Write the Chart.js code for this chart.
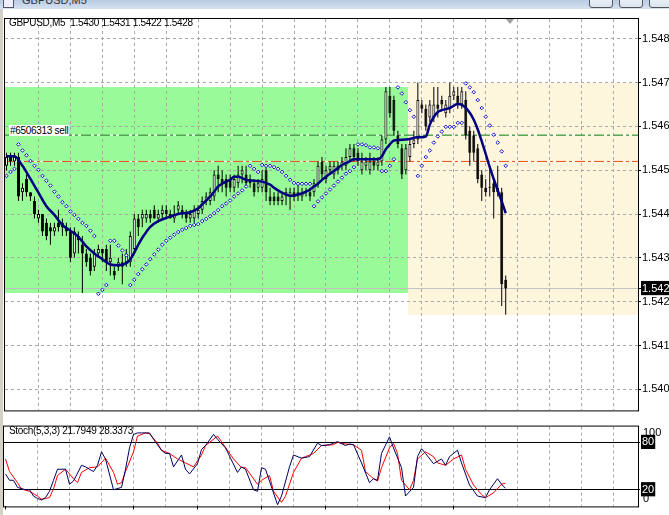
<!DOCTYPE html>
<html>
<head>
<meta charset="utf-8">
<script src="https://cdn.jsdelivr.net/npm/chart.js@4.4.0/dist/chart.umd.min.js"></script>
<style>
  html, body { margin: 0; padding: 0; background: #fff; }
  #wrap { position: relative; width: 669px; height: 515px; overflow: hidden; background: #fff;
          font-family: 'Liberation Sans', Arial, sans-serif; font-size: 10px; color: #000; }
  #main { position: absolute; left: 0; top: 0; }
  #stoch { position: absolute; left: 0; top: 418px; }
  #titlebar { position: absolute; left: 0; top: 0; width: 669px; height: 9px; overflow: hidden;
              background: linear-gradient(#b7cbe4, #d6e2f1); }
  #titlebar .name { position: absolute; left: 22px; top: -6px; font-size: 11px; color: #333; }
  #titlebar .icon { position: absolute; left: 3px; top: -3px; width: 9px; height: 9px; border: 1px solid #556;
                    background: #eef; }
  #titlebar .btn { position: absolute; top: -6px; width: 22px; height: 12px; border: 1px solid #555;
                   border-radius: 3px; background: linear-gradient(#f4f7fb, #d9e3ef); }
  .lbl { position: absolute; white-space: nowrap; line-height: 11px; letter-spacing: -0.3px; }
  #order { background: #fff; padding: 0 1px; }
  #shift { position: absolute; left: 506px; top: 19px; width: 0; height: 0;
           border-left: 4px solid transparent; border-right: 4px solid transparent; border-top: 5px solid #a0a0a0; }
  #edge { position: absolute; left: 0; top: 9px; width: 3px; height: 506px; background: #d4d0c8; }
</style>
</head>
<body>
<div id="wrap">
  <canvas id="main" width="669" height="418"></canvas>
  <canvas id="stoch" width="669" height="97"></canvas>
  <div id="titlebar">
    <div class="icon"></div>
    <div class="name">GBPUSD,M5</div>
    <div class="btn" style="left:589px"></div>
    <div class="btn" style="left:619px"></div>
    <div class="btn" style="left:649px"></div>
  </div>
  <div id="edge"></div>
  <div id="shift"></div>
  <div class="lbl" style="left:9px; top:17px;">GBPUSD,M5&nbsp; 1.5430 1.5431 1.5422 1.5428</div>
  <div class="lbl" id="order" style="left:9px; top:125px;">#6506313 sell</div>
  <div class="lbl" style="left:9px; top:425px;">Stoch(5,3,3) 21.7949 28.3373</div>
</div>
<script>
// GBPUSD M5 candles, one entry per bar (oldest first)
const opens = [1.5456,1.5458,1.5457,1.5458,1.5450,1.5453,1.5450,1.5448,1.5444,1.5445,
  1.5443,1.5442,1.5441,1.5443,1.5442,1.5442,1.5441,1.5436,1.5440,1.5438,
  1.5436,1.5435,1.5433,1.5436,1.5437,1.5437,1.5434,1.5432,1.5433,1.5434,
  1.5434,1.5434,1.5437,1.5444,1.5444,1.5444,1.5445,1.5446,1.5444,1.5445,
  1.5446,1.5445,1.5444,1.5446,1.5446,1.5445,1.5444,1.5444,1.5445,1.5446,
  1.5448,1.5448,1.5449,1.5454,1.5453,1.5453,1.5453,1.5451,1.5452,1.5454,
  1.5454,1.5453,1.5452,1.5451,1.5451,1.5455,1.5449,1.5449,1.5449,1.5448,
  1.5449,1.5449,1.5450,1.5449,1.5449,1.5450,1.5450,1.5450,1.5452,1.5457,
  1.5453,1.5455,1.5454,1.5456,1.5456,1.5456,1.5458,1.5460,1.5459,1.5455,
  1.5456,1.5455,1.5457,1.5456,1.5457,1.5462,1.5472,1.5471,1.5463,1.5460,
  1.5455,1.5458,1.5461,1.5462,1.5470,1.5469,1.5467,1.5467,1.5470,1.5471,
  1.5468,1.5469,1.5472,1.5472,1.5470,1.5471,1.5464,1.5463,1.5460,1.5454,
  1.5451,1.5451,1.5452,1.5451,1.5450,1.5430];
const highs = [1.5459,1.5459,1.5459,1.5459,1.5452,1.5454,1.5450,1.5449,1.5446,1.5445,
  1.5444,1.5443,1.5443,1.5446,1.5444,1.5443,1.5442,1.5442,1.5441,1.5440,
  1.5437,1.5436,1.5437,1.5438,1.5437,1.5438,1.5438,1.5433,1.5435,1.5436,
  1.5437,1.5441,1.5445,1.5445,1.5446,1.5446,1.5446,1.5447,1.5446,1.5447,
  1.5447,1.5446,1.5447,1.5448,1.5447,1.5446,1.5446,1.5447,1.5447,1.5449,
  1.5450,1.5451,1.5455,1.5456,1.5455,1.5454,1.5454,1.5454,1.5456,1.5456,
  1.5456,1.5454,1.5453,1.5453,1.5455,1.5456,1.5451,1.5450,1.5450,1.5450,
  1.5451,1.5451,1.5451,1.5452,1.5451,1.5451,1.5451,1.5453,1.5457,1.5458,
  1.5456,1.5457,1.5457,1.5457,1.5458,1.5460,1.5461,1.5461,1.5460,1.5459,
  1.5458,1.5459,1.5458,1.5458,1.5463,1.5474,1.5474,1.5472,1.5464,1.5461,
  1.5461,1.5462,1.5464,1.5475,1.5471,1.5470,1.5471,1.5474,1.5474,1.5472,
  1.5471,1.5475,1.5474,1.5474,1.5474,1.5473,1.5465,1.5464,1.5461,1.5455,
  1.5453,1.5456,1.5453,1.5456,1.5451,1.5431];
const lows = [1.5455,1.5456,1.5456,1.5448,1.5448,1.5449,1.5448,1.5444,1.5443,1.5440,
  1.5439,1.5438,1.5440,1.5441,1.5440,1.5440,1.5434,1.5435,1.5436,1.5427,
  1.5433,1.5431,1.5432,1.5435,1.5434,1.5432,1.5431,1.5430,1.5432,1.5429,
  1.5433,1.5433,1.5436,1.5440,1.5442,1.5443,1.5443,1.5444,1.5443,1.5444,
  1.5444,1.5444,1.5443,1.5445,1.5444,1.5443,1.5443,1.5443,1.5444,1.5445,
  1.5447,1.5447,1.5448,1.5450,1.5450,1.5449,1.5450,1.5450,1.5451,1.5452,
  1.5451,1.5451,1.5449,1.5450,1.5450,1.5448,1.5447,1.5447,1.5447,1.5447,
  1.5447,1.5446,1.5448,1.5448,1.5448,1.5449,1.5448,1.5449,1.5451,1.5453,
  1.5452,1.5454,1.5453,1.5454,1.5455,1.5455,1.5457,1.5457,1.5456,1.5454,
  1.5455,1.5454,1.5455,1.5455,1.5456,1.5461,1.5467,1.5463,1.5460,1.5453,
  1.5454,1.5457,1.5460,1.5461,1.5468,1.5464,1.5466,1.5466,1.5467,1.5469,
  1.5467,1.5468,1.5471,1.5469,1.5469,1.5462,1.5456,1.5457,1.5452,1.5448,
  1.5449,1.5449,1.5444,1.5449,1.5424,1.5422];
const closes = [1.5458,1.5457,1.5458,1.5449,1.5451,1.5450,1.5449,1.5445,1.5445,1.5441,
  1.5440,1.5441,1.5442,1.5442,1.5443,1.5441,1.5435,1.5441,1.5439,1.5436,
  1.5434,1.5432,1.5436,1.5437,1.5436,1.5434,1.5435,1.5431,1.5434,1.5433,
  1.5436,1.5440,1.5444,1.5442,1.5445,1.5445,1.5444,1.5444,1.5445,1.5446,
  1.5445,1.5444,1.5445,1.5447,1.5445,1.5444,1.5445,1.5446,1.5446,1.5448,
  1.5449,1.5450,1.5454,1.5453,1.5452,1.5451,1.5451,1.5453,1.5454,1.5455,
  1.5452,1.5452,1.5450,1.5452,1.5453,1.5450,1.5448,1.5448,1.5448,1.5449,
  1.5450,1.5450,1.5449,1.5450,1.5450,1.5450,1.5449,1.5452,1.5456,1.5454,
  1.5455,1.5456,1.5456,1.5455,1.5457,1.5458,1.5460,1.5458,1.5457,1.5457,
  1.5457,1.5457,1.5456,1.5457,1.5462,1.5473,1.5468,1.5464,1.5461,1.5454,
  1.5460,1.5461,1.5462,1.5471,1.5469,1.5465,1.5470,1.5470,1.5469,1.5470,
  1.5470,1.5472,1.5473,1.5470,1.5473,1.5463,1.5459,1.5459,1.5453,1.5451,
  1.5450,1.5451,1.5450,1.5450,1.5429,1.5428];

// Parabolic SAR, one dot per bar
const sar = [1.54537,1.54546,1.54553,1.54609,1.54595,1.54584,1.54571,1.54560,1.54551,1.54537,
  1.54526,1.54515,1.54501,1.54490,1.54477,1.54468,1.54456,1.54448,1.54439,1.54430,
  1.54423,1.54412,1.54400,1.54268,1.54277,1.54288,1.54389,1.54389,1.54378,1.54367,
  1.54356,1.54288,1.54300,1.54313,1.54324,1.54335,1.54347,1.54358,1.54369,1.54380,
  1.54389,1.54396,1.54403,1.54409,1.54414,1.54418,1.54423,1.54425,1.54427,1.54434,
  1.54439,1.54445,1.54452,1.54459,1.54468,1.54474,1.54481,1.54490,1.54497,1.54504,
  1.54513,1.54560,1.54553,1.54546,1.54562,1.54560,1.54560,1.54557,1.54553,1.54546,
  1.54537,1.54528,1.54521,1.54519,1.54519,1.54519,1.54519,1.54468,1.54479,1.54488,
  1.54497,1.54506,1.54515,1.54524,1.54533,1.54542,1.54548,1.54557,1.54609,1.54609,
  1.54607,1.54602,1.54602,1.54600,1.54548,1.54548,1.54560,1.54575,1.54739,1.54725,
  1.54705,1.54687,1.54672,1.54537,1.54560,1.54580,1.54595,1.54613,1.54627,1.54638,
  1.54649,1.54649,1.54649,1.54658,1.54658,1.54748,1.54739,1.54728,1.54710,1.54692,
  1.54672,1.54652,1.54631,1.54613,1.54593,1.54560];

// moving average, read at these bar numbers
const maIdx = [0,2,4,6,8,10,12,14,16,18,20,22,24,26,28,30,31,32,33,34,
  35,36,38,40,43,46,48,49,50,51,52,53,54,55,56,57,58,60,62,64,
  66,67,68,69,70,71,72,73,74,75,76,77,78,79,80,81,82,83,84,85,
  86,87,93,94,95,96,97,100,103,105,106,107,108,109,111,113,114,115,116,117,
  118,119,120,121,122,123,124,125];
const maVal = [1.54582,1.54582,1.54560,1.54530,1.54499,1.54468,1.54448,1.54425,1.54412,1.54398,
  1.54376,1.54360,1.54347,1.54335,1.54333,1.54338,1.54347,1.54362,1.54380,1.54396,
  1.54409,1.54421,1.54434,1.54441,1.54450,1.54454,1.54463,1.54472,1.54481,1.54490,
  1.54501,1.54513,1.54519,1.54524,1.54528,1.54535,1.54535,1.54528,1.54526,1.54524,
  1.54517,1.54510,1.54504,1.54499,1.54495,1.54492,1.54492,1.54495,1.54497,1.54501,
  1.54506,1.54513,1.54519,1.54528,1.54535,1.54542,1.54548,1.54555,1.54562,1.54566,
  1.54571,1.54575,1.54575,1.54582,1.54598,1.54609,1.54618,1.54620,1.54625,1.54627,
  1.54654,1.54672,1.54683,1.54687,1.54692,1.54701,1.54699,1.54692,1.54681,1.54665,
  1.54643,1.54616,1.54587,1.54557,1.54530,1.54504,1.54479,1.54452];

// Stochastic (5,3,3): %K and %D vertices
const kIdx = [0,1,2,3,5,6,7,8,9,10,11,12,13,15,16,17,19,20,22,23,
  24,25,27,29,30,31,32,33,34,36,37,39,40,41,42,44,45,46,48,49,
  50,52,53,55,58,59,60,62,63,64,65,68,69,71,72,74,76,78,79,81,
  82,83,85,86,87,89,91,92,93,94,96,97,99,100,102,103,104,105,107,109,
  110,111,113,114,116,118,120,121,123,124,125];
const kVal = [40,32,32,23,20,20,12,9,7,10,18,32,46,46,27,31,51,49,43,51,
  68,59,20,23,46,73,90,92,92,92,84,70,66,66,49,64,46,40,53,71,
  76,90,84,73,42,49,46,20,18,48,46,1,12,49,64,60,62,79,76,77,
  79,81,76,78,77,54,29,34,32,66,87,73,48,12,23,62,72,66,53,59,
  51,62,70,54,26,12,10,20,34,27,21.7949];
const dIdx = [0,1,3,4,6,8,9,11,12,13,15,17,18,19,21,23,25,27,28,29,
  30,32,33,35,36,38,39,41,43,45,47,49,50,53,54,57,59,60,63,64,
  66,67,69,70,72,74,75,77,79,82,83,85,87,89,90,92,93,94,96,97,
  98,99,101,102,103,105,107,108,110,112,114,115,117,119,120,122,124,125];
const dVal = [59,43,29,21,18,12,8,10,21,38,46,34,29,42,48,49,60,42,27,29,
  43,68,88,92,91,79,70,66,59,54,49,64,76,88,81,59,48,48,27,32,
  38,18,4,12,42,60,62,66,76,77,80,78,77,70,43,34,31,48,73,79,
  66,32,20,32,59,68,62,54,51,59,64,46,26,14,10,16,27,28.3373];

// axis ticks
const priceTicks = [1.5405,1.5415,1.5425,1.5435,1.5445,1.5455,1.5465,1.5475,1.5485];
const stochLevels = [20, 80];
const timeTickIdx = [0,16,32,48,64,80,96,112];

// order lines and session boxes
const orderPrice = 1.5463;
const stopPrice = 1.5457;
const boxFrom = [-1, 100.5];
const boxTo = [100.5, 160];
const boxLow = [1.5427, 1.5422];
const boxHigh = [1.5474, 1.5475];
const boxColor = ['#98fb98', '#fdf5dc'];

const X_MIN = -0.375, X_MAX = 158.125;
const bid = closes[closes.length - 1];
const bars = opens.map((_, i) => i);

const frame = {
  id: 'frame',
  afterDraw(chart) {
    const a = chart.chartArea, c = chart.ctx;
    c.save();
    c.strokeStyle = '#000';
    c.lineWidth = 1;
    c.strokeRect(a.left - 0.5, a.top - 0.5, a.right - a.left + 1, a.bottom - a.top + 1);
    c.restore();
  }
};

const boxes = {
  id: 'boxes',
  beforeDraw(chart) {
    const a = chart.chartArea, c = chart.ctx, x = chart.scales.x, y = chart.scales.y;
    c.save();
    c.beginPath();
    c.rect(a.left, a.top, a.right - a.left, a.bottom - a.top);
    c.clip();
    boxFrom.forEach((f, i) => {
      const x0 = Math.round(x.getPixelForValue(f)), x1 = Math.round(x.getPixelForValue(boxTo[i]));
      const y0 = Math.round(y.getPixelForValue(boxHigh[i])), y1 = Math.round(y.getPixelForValue(boxLow[i]));
      c.fillStyle = boxColor[i];
      c.fillRect(x0, y0, x1 - x0, y1 - y0);
    });
    c.restore();
  }
};

const hline = (v, color, dash, order) => ({
  type: 'line', data: [{x: X_MIN, y: v}, {x: X_MAX, y: v}],
  borderColor: color, borderWidth: 1, borderDash: dash, pointRadius: 0, order: order
});

const font = {family: "'Liberation Sans', Arial, sans-serif", size: 11};

new Chart(document.getElementById('main'), {
  type: 'bar',
  data: {
    datasets: [
      hline(bid, '#c0c0c0', [], 9),
      hline(orderPrice, '#ffffff', [], 8),
      hline(orderPrice, '#007a00', [10, 3, 3, 3], 7),
      hline(stopPrice, '#ffffff', [], 8),
      hline(stopPrice, '#e8501a', [10, 3, 3, 3], 7),
      {
        type: 'bar', data: bars.map(i => ({x: i, y: [lows[i], highs[i]]})),
        backgroundColor: '#000', borderWidth: 0, barThickness: 1, grouped: false,
        inflateAmount: 0, order: 5
      },
      {
        type: 'bar', data: bars.map(i => ({x: i, y: [opens[i], closes[i]]})),
        backgroundColor: ctx => closes[ctx.dataIndex] >= opens[ctx.dataIndex] ? '#fff' : '#000',
        borderColor: '#000', borderWidth: 1, borderSkipped: false, barThickness: 3,
        minBarLength: 1, grouped: false, inflateAmount: 0, order: 4
      },
      {
        type: 'line', data: maIdx.map((i, k) => ({x: i, y: maVal[k]})),
        borderColor: '#000080', borderWidth: 2.5, pointRadius: 0,
        cubicInterpolationMode: 'monotone', order: 2
      },
      {
        type: 'line', data: bars.map(i => ({x: i, y: sar[i]})), showLine: false,
        pointStyle: 'rectRot', pointRadius: 1.8, pointBorderWidth: 1,
        pointBorderColor: '#1010d0', pointBackgroundColor: '#fff', order: 1
      }
    ]
  },
  options: {
    responsive: false,
    animation: false,
    layout: {padding: {left: 4, top: 19, right: 0, bottom: 1}},
    plugins: {legend: {display: false}, tooltip: {enabled: false}},
    scales: {
      x: {
        type: 'linear', min: X_MIN, max: X_MAX, offset: false,
        afterBuildTicks: s => {
          const t = [];
          for (let v = 8; v < s.max; v += 8) t.push({value: v});
          s.ticks = t;
        },
        afterFit: s => { s.height = 0; },
        ticks: {display: false},
        grid: {color: '#a8a8a8', drawTicks: false, offset: false},
        border: {display: false, dash: [3, 3]}
      },
      y: {
        position: 'right', min: 1.54002, max: 1.54895,
        afterBuildTicks: s => { s.ticks = priceTicks.concat([bid]).map(v => ({value: v})); },
        afterFit: s => { s.width = 31; },
        ticks: {
          autoSkip: false, padding: 1, font: font,
          color: ctx => ctx.tick.value === bid ? '#fff' : '#000',
          showLabelBackdrop: ctx => ctx.tick.value === bid,
          backdropColor: '#000',
          backdropPadding: {top: 1, bottom: 0, left: 1, right: 4},
          callback: v => v.toFixed(4)
        },
        grid: {
          color: ctx => ctx.tick && ctx.tick.value === bid ? 'rgba(0,0,0,0)' : '#a8a8a8',
          tickColor: '#000', tickLength: 3
        },
        border: {display: false, dash: [3, 3]}
      }
    }
  },
  plugins: [boxes, frame]
});

const levelLabels = {
  id: 'levelLabels',
  afterDraw(chart) {
    const y = chart.scales.y, c = chart.ctx;
    c.save();
    c.font = "11px 'Liberation Sans', Arial, sans-serif";
    c.fillStyle = '#000';
    c.textBaseline = 'top';
    c.fillText('100', chart.chartArea.right + 5, y.getPixelForValue(100) + 1);
    c.textBaseline = 'bottom';
    c.fillText('0', chart.chartArea.right + 5, y.getPixelForValue(0) - 1);
    c.restore();
  }
};

new Chart(document.getElementById('stoch'), {
  type: 'line',
  data: {
    datasets: [
      {data: kIdx.map((i, k) => ({x: i, y: kVal[k]})), borderColor: '#000060', borderWidth: 1, pointRadius: 0},
      {data: dIdx.map((i, k) => ({x: i, y: dVal[k]})), borderColor: '#ff0000', borderWidth: 1, pointRadius: 0}
    ]
  },
  options: {
    responsive: false,
    animation: false,
    layout: {padding: {left: 4, top: 3, right: 0, bottom: 0}},
    plugins: {legend: {display: false}, tooltip: {enabled: false}},
    scales: {
      x: {
        type: 'linear', min: X_MIN, max: X_MAX,
        afterBuildTicks: s => {
          const t = [];
          for (let v = 8; v < s.max; v += 8) t.push({value: v});
          s.ticks = t;
        },
        afterFit: s => { s.height = 0; },
        ticks: {display: false},
        grid: {color: '#a8a8a8', drawTicks: false},
        border: {display: false, dash: [3, 3]}
      },
      x2: {
        type: 'linear', position: 'bottom', min: X_MIN, max: X_MAX,
        afterBuildTicks: s => { s.ticks = timeTickIdx.map(v => ({value: v})); },
        afterFit: s => { s.height = 3; },
        ticks: {display: false},
        grid: {drawOnChartArea: false, tickLength: 3, tickColor: '#000'},
        border: {display: false}
      },
      y: {
        position: 'right', min: -1.1, max: 100,
        afterBuildTicks: s => { s.ticks = stochLevels.map(v => ({value: v})); },
        afterFit: s => { s.width = 31; },
        ticks: {
          autoSkip: false, padding: 2, font: font, color: '#fff',
          showLabelBackdrop: true, backdropColor: '#000',
          backdropPadding: {top: 1, bottom: 0, left: 1, right: 1}
        },
        grid: {color: '#000', tickColor: '#000', tickLength: 2},
        border: {display: false}
      }
    }
  },
  plugins: [frame, levelLabels]
});
</script>
</body>
</html>
